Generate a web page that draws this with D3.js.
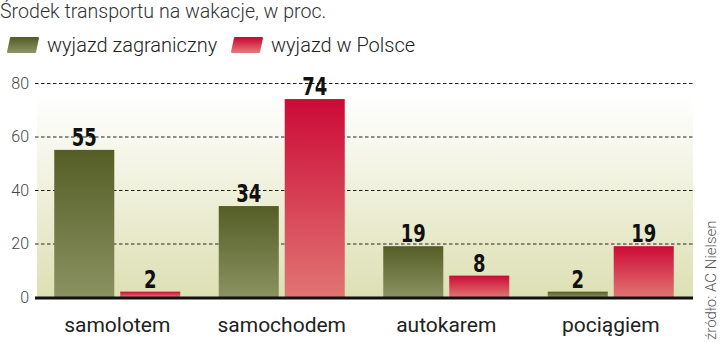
<!DOCTYPE html>
<html>
<head>
<meta charset="utf-8">
<script src="https://cdn.jsdelivr.net/npm/d3@7"></script>
<style>
	body { margin: 0; background: #fff; }
	svg { display: block; }
</style>
</head>
<body>
<div id="chart"></div>
<script>
const title = "Środek transportu na wakacje, w proc.";
const source = "źródło: AC Nielsen";
const categories = ["samolotem", "samochodem", "autokarem", "pociągiem"];
const seriesNames = ["wyjazd zagraniczny", "wyjazd w Polsce"];
const abroad = [55, 34, 19, 2];
const domestic = [2, 74, 8, 19];
const yTicks = [0, 20, 40, 60, 80];

const width = 720;
const height = 342;
const marginLeft = 35;
const marginRight = 27;
const plotTop = 83;
const plotBottom = 297;

const rows = categories.map((c, i) => ({
	category: c,
	values: [abroad[i], domestic[i]],
}));

const svg = d3
	.select("#chart")
	.append("svg")
	.attr("width", width)
	.attr("height", height);

const defs = svg.append("defs");

function addGradient(id, stops) {
	const g = defs
		.append("linearGradient")
		.attr("id", id)
		.attr("x1", 0)
		.attr("x2", 0)
		.attr("y1", 0)
		.attr("y2", 1);
	stops.forEach(([o, c]) => g.append("stop").attr("offset", o).attr("stop-color", c));
	return g;
}
addGradient("bg", [[0, "#ffffff"], [1, "#dde0b3"]]);
addGradient("green", [[0, "#555e25"], [1, "#8a9262"]]);
addGradient("red", [[0, "#cc0a36"], [1, "#e17573"]]);
const fills = ["url(#green)", "url(#red)"];

const x0 = d3
	.scaleBand()
	.domain(categories)
	.range([marginLeft, width - marginRight])
	.paddingInner(0.234)
	.paddingOuter(0.117);
const x1 = d3
	.scaleBand()
	.domain([0, 1])
	.range([0, x0.bandwidth()])
	.paddingInner(0.09);
const y = d3.scaleLinear().domain([0, 80]).range([plotBottom, plotTop]);

// background
svg
	.append("rect")
	.attr("x", marginLeft + 2)
	.attr("y", y(80) + 12)
	.attr("width", width - marginRight - marginLeft - 2)
	.attr("height", y(0) - y(80) - 12)
	.attr("fill", "url(#bg)");

// title
svg
	.append("text")
	.attr("x", 0)
	.attr("y", 18)
	.text(title)
	.attr("font-family", "Roboto")
	.attr("font-weight", 300)
	.attr("font-size", 19.6)
	.attr("fill", "#333");

// legend
const legendX = [8, 232];
const legend = svg
	.append("g")
	.selectAll("g")
	.data(seriesNames)
	.join("g")
	.attr("transform", (d, i) => `translate(${legendX[i]},38)`);
legend
	.append("path")
	.attr("d", "M3,0 L30,0 L27,14 L0,14 Z")
	.attr("fill", (d, i) => fills[i])
	.attr("stroke", (d, i) => fills[i])
	.attr("stroke-linejoin", "round")
	.attr("stroke-width", 2);
legend
	.append("text")
	.attr("x", 39)
	.attr("y", 13.5)
	.text((d) => d)
	.attr("font-family", "Roboto")
	.attr("font-weight", 300)
	.attr("font-size", 20)
	.attr("fill", "#222");

// gridlines + y axis
const yAxis = d3
	.axisLeft(y)
	.tickValues(yTicks)
	.tickSize(-(width - marginRight - marginLeft))
	.tickPadding(6);
svg
	.append("g")
	.attr("transform", `translate(${marginLeft},0)`)
	.call(yAxis)
	.call((g) => g.select(".domain").remove())
	.call((g) =>
		g
			.selectAll(".tick line")
			.attr("stroke", "#222")
			.attr("stroke-width", 1)
			.attr("stroke-dasharray", "3.5,2.5")
	)
	.call((g) =>
		g
			.selectAll(".tick text")
			.attr("font-family", "Roboto")
			.attr("font-weight", 300)
			.attr("font-size", 16)
			.attr("fill", "#444")
	);

// bars
const groups = svg
	.append("g")
	.selectAll("g")
	.data(rows)
	.join("g")
	.attr("transform", (d) => `translate(${x0(d.category)},0)`);

groups
	.selectAll("rect")
	.data((d) => d.values)
	.join("rect")
	.attr("x", (d, i) => x1(i))
	.attr("y", (d) => y(d))
	.attr("width", x1.bandwidth())
	.attr("height", (d) => y(0) - y(d))
	.attr("fill", (d, i) => fills[i]);

// condensed bold numbers: squeeze DejaVu bold horizontally
groups
	.selectAll("text")
	.data((d) => d.values)
	.join("text")
	.attr(
		"transform",
		(d, i) => `translate(${x1(i) + x1.bandwidth() / 2},${y(d) - 4}) scale(0.72,1)`
	)
	.attr("text-anchor", "middle")
	.text((d) => d)
	.attr("font-family", "'DejaVu Sans', sans-serif")
	.attr("font-weight", "bold")
	.attr("font-size", 25)
	.attr("fill", "#111");

// baseline
svg
	.append("line")
	.attr("x1", marginLeft)
	.attr("x2", width - marginRight)
	.attr("y1", y(0) + 1)
	.attr("y2", y(0) + 1)
	.attr("stroke", "#111")
	.attr("stroke-width", 3);

// category labels
const xAxis = d3.axisBottom(x0).tickSize(0).tickPadding(20);
svg
	.append("g")
	.attr("transform", `translate(0,${plotBottom})`)
	.call(xAxis)
	.call((g) => g.select(".domain").remove())
	.call((g) =>
		g
			.selectAll(".tick text")
			.attr("font-family", "Roboto")
			.attr("font-size", 21)
			.attr("fill", "#222")
	);

// source
svg
	.append("text")
	.attr("transform", `translate(716,340) rotate(-90)`)
	.text(source)
	.attr("font-family", "Roboto")
	.attr("font-weight", 300)
	.attr("font-size", 15)
	.attr("fill", "#555");
</script>
</body>
</html>
